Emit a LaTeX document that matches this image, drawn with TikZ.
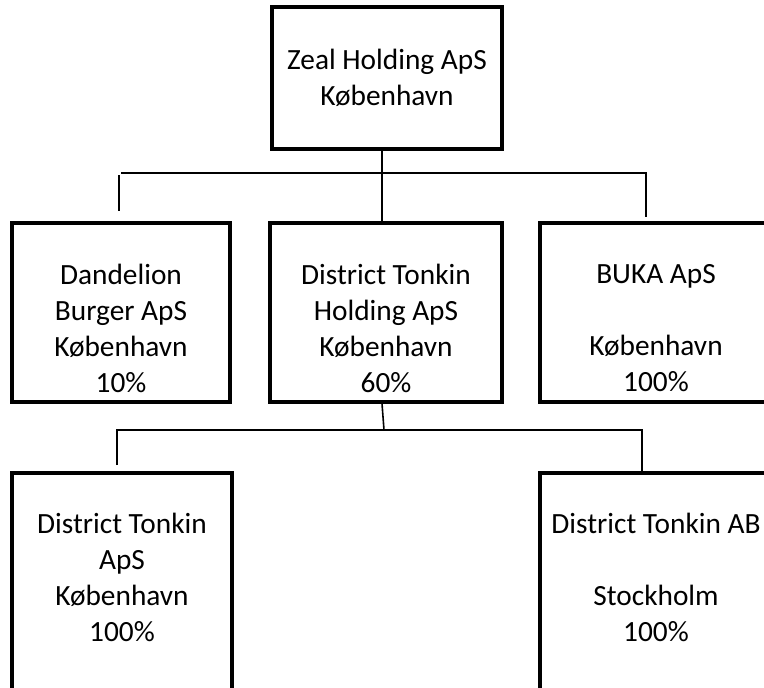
\documentclass[tikz,border=0pt]{standalone}
\usepackage{fontspec}
\setmainfont{Carlito}
\usetikzlibrary{positioning}
\begin{document}
\begin{tikzpicture}[x=0.75pt,y=-0.75pt,
        box/.style={draw,line width=2.4pt,rectangle,inner sep=0pt},
        txt/.style={align=center,inner sep=0pt,anchor=north,font=\fontsize{22}{27}\selectfont},
        wire/.style={line width=1.2pt}]
        \clip (0,0) rectangle (764,687);

        \node[box,txt,anchor=center,minimum width=172.5pt,minimum height=106.5pt] (Z) at (387,78) {Zeal Holding ApS\\København};

        \node[box,minimum width=163.5pt,minimum height=134.25pt] (D) at (121,312.5) {};
        \node[box,minimum width=174pt,minimum height=134.25pt] (H) at (386,312.5) {};
        \node[box,minimum width=174pt,minimum height=134.25pt] (B) at (656,312.5) {};
        \node[txt,below=32pt of D.north] (Dt) {Dandelion\\Burger ApS\\København\\10\%};
        \node[txt,below=32pt of H.north] (Ht) {District Tonkin\\Holding ApS\\København\\60\%};
        \node[txt,below=32pt of B.north] (Bt) {BUKA ApS\\[27pt]København\\100\%};

        \node[box,minimum width=165pt,minimum height=215.25pt] (T) at (122,616.5) {};
        \node[box,minimum width=174pt,minimum height=215.25pt] (S) at (656,616.5) {};
        \node[txt,below=31pt of T.north] (Tt) {District Tonkin\\ApS\\København\\100\%};
        \node[txt,below=31pt of S.north] (St) {District Tonkin AB\\[27pt]Stockholm\\100\%};

        \coordinate (K) at (382,173);
        \coordinate (E) at (121,173);
        \coordinate (F) at (646,173);
        \coordinate (U) at (119,175);
        \coordinate (V) at (119,211);
        \coordinate (W) at (646,217);

        \coordinate (M) at (384,430);
        \coordinate (G) at (117,430);
        \coordinate (J) at (642,430);
        \coordinate (X) at (117,465);

        \draw[wire] (Z.south -| K) -- (K) -- (K |- H.north);
        \draw[wire] (E) -- (F) -- (W);
        \draw[wire] (U) -- (V);
        \draw[wire] ([xshift=-3pt]H.south) -- (M);
        \draw[wire] (X) -- (G) -- (J) -- (J |- S.north);
      \end{tikzpicture}
\end{document}
